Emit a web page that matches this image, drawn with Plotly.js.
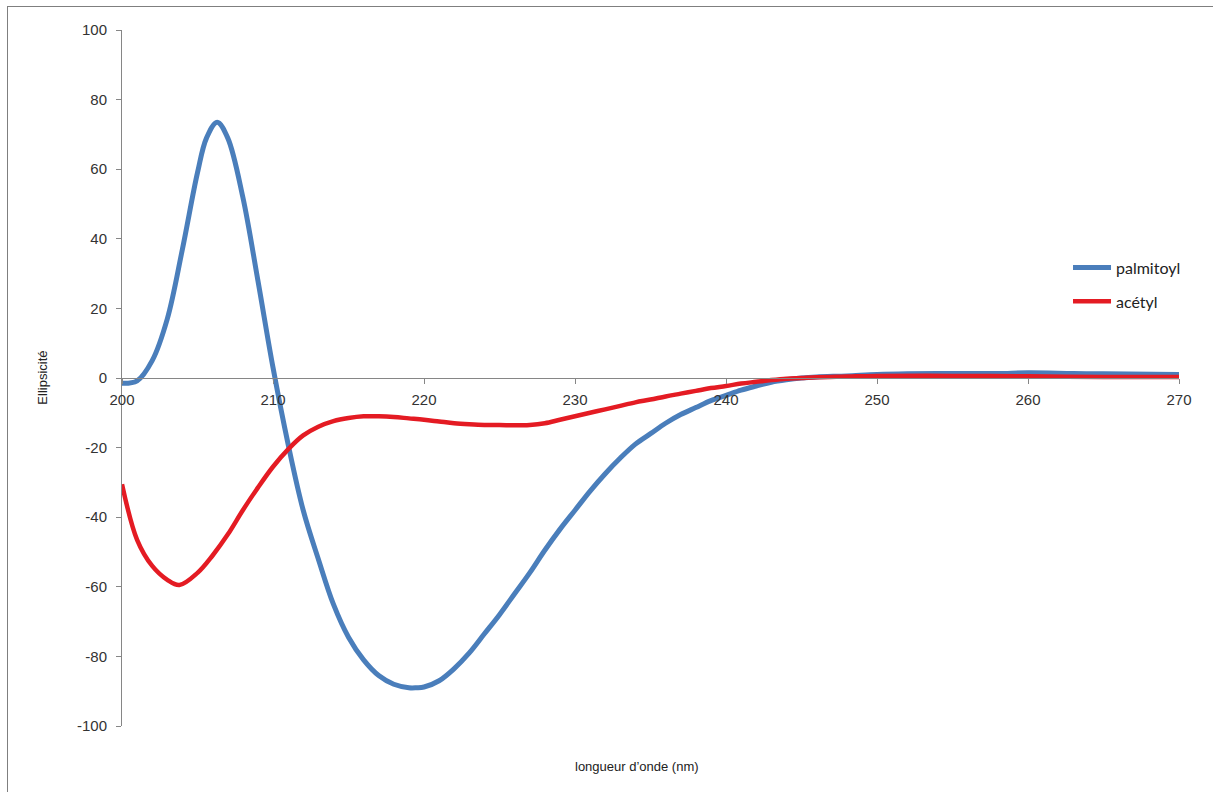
<!DOCTYPE html>
<html>
<head>
<meta charset="utf-8">
<script src="https://cdn.plot.ly/plotly-3.0.1.min.js"></script>
<style>
html,body{margin:0;padding:0;background:#fff;}
#wrap{position:relative;width:1213px;height:792px;overflow:hidden;}
#chart{position:absolute;left:0;top:0;width:1213px;height:792px;}
#frame{position:absolute;left:7px;top:6px;width:1300px;height:900px;border-left:1px solid #7f7f7f;border-top:1px solid #7f7f7f;pointer-events:none;}
</style>
</head>
<body>
<div id="wrap"><div id="chart"></div><div id="frame"></div></div>
<script>
// Wavelength (nm) and ellipticity readings
const wavelength = [200,201,202,203,204,205,205.6,206.3,207,208,209,210,211,212,213,214,215,216,217,218,219,219.5,220,221,222,223,224,225,226,227,228,229,230,231,232,233,234,235,236,237,238,239,240,241,242,243,244,245,246,248,250,252,255,258,260,263,265,270];
const palmitoyl = [-1.5,-0.8,5,17,37,59,69,73.5,69,52,28,3,-19,-38,-52,-65,-74.5,-81,-85.5,-88,-89,-89,-88.8,-87,-83.5,-79,-73.5,-68,-62,-56,-49.5,-43.5,-38,-32.5,-27.5,-23,-19,-16,-13,-10.5,-8.5,-6.5,-5,-3.5,-2.3,-1.2,-0.5,0,0.3,0.6,1,1.2,1.3,1.3,1.5,1.3,1.2,1];

const wavelengthA = [200,201,202,203,203.8,205,206,207,208,209,210,211,212,213,214,215,216,217,218,219,220,221,222,223,224,225,226,227,228,229,230,231,232,233,234,235,236,237,238,239,240,241,242,243,244,245,246,248,250,255,260,265,270];
const acetyl = [-30.5,-46.5,-54,-58,-59.5,-56,-51,-45,-38,-31.5,-25.5,-20.5,-16.5,-14,-12.4,-11.5,-11,-11,-11.2,-11.6,-12,-12.5,-13,-13.3,-13.5,-13.5,-13.6,-13.5,-13,-12,-11,-10,-9,-8,-7,-6.2,-5.3,-4.5,-3.7,-2.9,-2.3,-1.6,-1.1,-0.6,-0.2,0,0.2,0.4,0.6,0.6,0.5,0.3,0.3];

const xTicks = [200,210,220,230,240,250,260,270];
const yTicks = [-100,-80,-60,-40,-20,0,20,40,60,80,100];

const traces = [
  {x: wavelength, y: palmitoyl, name: 'palmitoyl', mode: 'lines', legendgroup: 'a',
   line: {color: '#4a7ebb', width: 5, shape: 'spline', smoothing: 1}},
  {x: wavelengthA, y: acetyl, name: 'acétyl', mode: 'lines', legendgroup: 'b',
   line: {color: '#e41b23', width: 4.5, shape: 'spline', smoothing: 1}}
];

const tickFont = {family: 'Liberation Sans, Arial, sans-serif', size: 15, color: '#333'};

const layout = {
  width: 1213, height: 792,
  margin: {l: 122, r: 34, t: 30, b: 66},
  paper_bgcolor: 'rgba(0,0,0,0)', plot_bgcolor: 'rgba(0,0,0,0)',
  showlegend: true,
  legend: {x: 0.895, xanchor: 'left', y: 0.683, yanchor: 'top', traceorder: 'grouped',
           tracegroupgap: 10, itemwidth: 38, bgcolor: 'rgba(0,0,0,0)',
           font: {family: 'Lato, Open Sans, sans-serif', size: 16, color: '#222'}},
  xaxis: {range: [200, 270], tickvals: xTicks, ticktext: xTicks.map(String),
          anchor: 'free', position: 0.5, showline: true, linecolor: '#868686', linewidth: 1,
          ticks: 'outside', ticklen: 5, tickcolor: '#868686', showgrid: false, zeroline: false,
          tickfont: tickFont, ticklabelstandoff: 3},
  yaxis: {range: [-100, 100], tickvals: yTicks, ticktext: yTicks.map(String),
          showline: true, linecolor: '#868686', linewidth: 1,
          ticks: 'outside', ticklen: 5, tickcolor: '#868686', showgrid: false,
          zeroline: true, zerolinecolor: '#868686', zerolinewidth: 1,
          tickfont: tickFont, ticklabelstandoff: 6},
  annotations: [
    {text: 'longueur d\u2019onde (nm)', xref: 'paper', yref: 'paper', x: 0.487, y: -0.058,
     xanchor: 'center', yanchor: 'middle', showarrow: false,
     font: {family: 'Liberation Sans, Arial, sans-serif', size: 13, color: '#222'}},
    {text: 'Ellipsicité', xref: 'paper', yref: 'paper', x: -0.076, y: 0.5,
     xanchor: 'center', yanchor: 'middle', showarrow: false, textangle: -90,
     font: {family: 'Liberation Sans, Arial, sans-serif', size: 13, color: '#222'}}
  ]
};

Plotly.newPlot('chart', traces, layout, {displayModeBar: false, staticPlot: true});
</script>
</body>
</html>
